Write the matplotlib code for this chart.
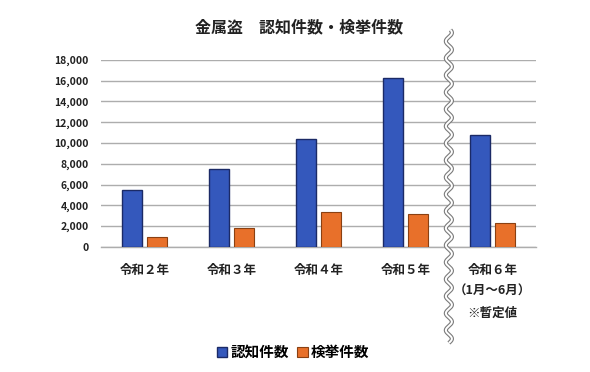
import numpy as np
import matplotlib
matplotlib.use("Agg")
import matplotlib.pyplot as plt
import matplotlib.transforms as mtransforms

plt.rcParams['font.family'] = ['Noto Sans CJK JP', 'DejaVu Sans']

# データ
categories = ["令和２年", "令和３年", "令和４年", "令和５年", "令和６年\n（1月～6月）\n※暫定値"]
ninchi = [5450, 7530, 10370, 16300, 10780]   # 認知件数
kenkyo = [1000, 1840, 3340, 3180, 2280]      # 検挙件数
series_names = ["認知件数", "検挙件数"]

blue, blue_edge = '#3458BC', '#1B2A66'
orange, orange_edge = '#E8702A', '#8A4012'

fig = plt.figure(figsize=(5.9, 3.72), dpi=100)
ax = fig.add_axes([0.172, 0.336, 0.736, 0.503])

x = np.arange(len(categories))
w = 0.23
ax.bar(x - 0.143, ninchi, w, color=blue, edgecolor=blue_edge, linewidth=1.0, label=series_names[0], zorder=3)
ax.bar(x + 0.143, kenkyo, w, color=orange, edgecolor=orange_edge, linewidth=0.8, label=series_names[1], zorder=3)

ax.set_xlim(-0.5, len(categories) - 0.5)
ax.set_ylim(0, 18000)
ax.set_yticks(np.arange(0, 18001, 2000))
ax.set_yticklabels([f"{v:,}" for v in range(0, 18001, 2000)], fontsize=7.5, fontweight='bold', color='#222222')
ax.yaxis.grid(True, color='#ADADAD', linewidth=1.0, zorder=0)
ax.axhline(0, color='#ADADAD', linewidth=1.0, zorder=1, clip_on=False)
ax.set_axisbelow(True)
for s in ax.spines.values():
    s.set_visible(False)
ax.tick_params(axis='both', length=0)
ax.tick_params(axis='y', pad=9)
ax.set_xticks(x)
ax.set_xticklabels(categories, fontsize=9, fontweight='bold', linespacing=1.85, color='#222222', va='top')
ax.tick_params(axis='x', pad=12)

fig.text(299.5 / 590, 1 - 27 / 372, "金属盗　認知件数・検挙件数", ha='center', va='center',
         fontsize=11.5, fontweight='bold', color='#222222')

# 波線（省略記号）
trans = mtransforms.blended_transform_factory(ax.transData, fig.transFigure)
yy = np.linspace(1 - 343 / 372, 1 - 30 / 372, 600)
xx = 3.5 + 0.035 * np.sin(2 * np.pi * (yy - yy[0]) / (17 / 372))
ax.plot(xx, yy, transform=trans, color='#7A7A7A', linewidth=3.0, clip_on=False, zorder=5, solid_capstyle='butt')
ax.plot(xx, yy, transform=trans, color='white', linewidth=1.4, clip_on=False, zorder=6, solid_capstyle='butt')

leg = fig.legend(loc='center', bbox_to_anchor=(293 / 590, 1 - 352 / 372), ncol=2, frameon=False,
                 prop={'size': 10.5, 'weight': 'bold'}, handlelength=0.7, handleheight=0.7,
                 handletextpad=0.2, columnspacing=0.6)

fig.savefig("out.png", dpi=100)
